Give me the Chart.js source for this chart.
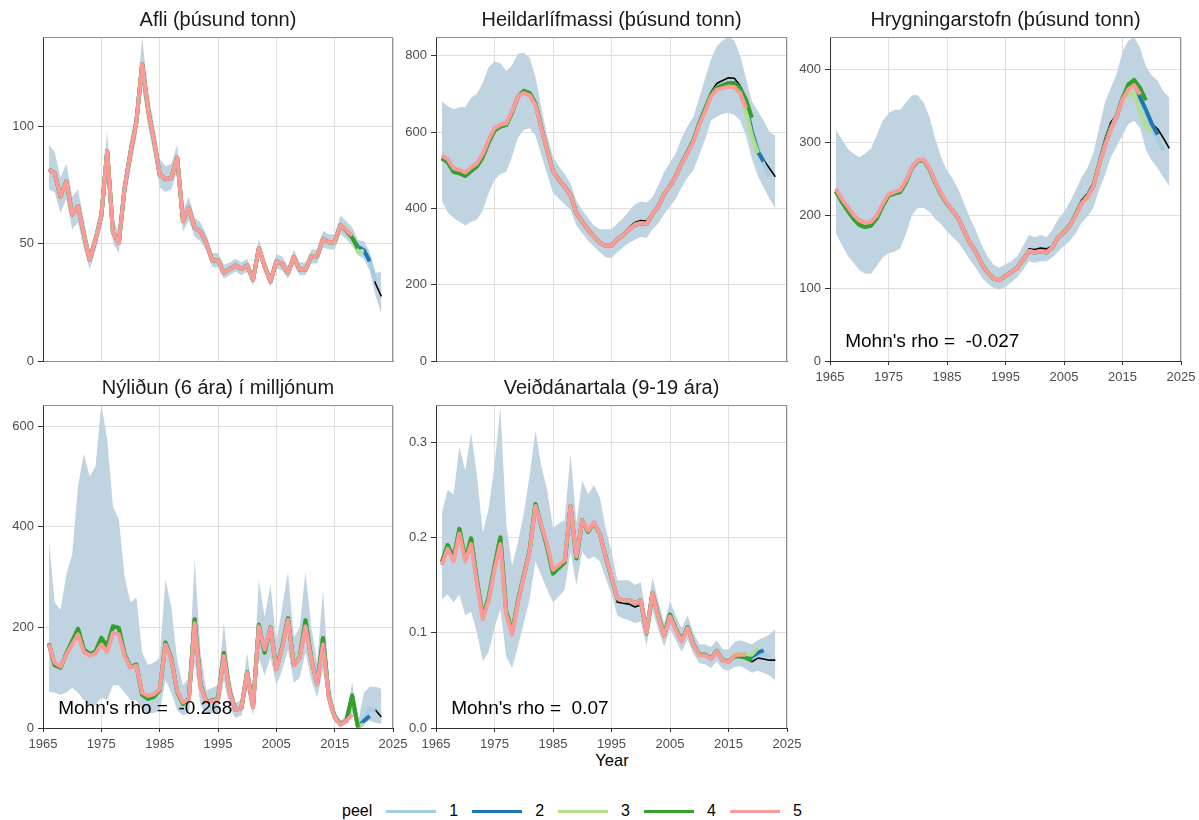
<!DOCTYPE html>
<html>
<head>
<meta charset="utf-8">
<script src="https://cdn.jsdelivr.net/npm/chart.js@4.4.0/dist/chart.umd.min.js"></script>
<style>
  body { margin: 0; background: #fff; width: 1199px; height: 820px; overflow: hidden; position: relative;
         font-family: "Liberation Sans", Arial, Helvetica, sans-serif; }
  canvas { position: absolute; }
  #xlab { position: absolute; left: 512px; width: 200px; top: 751px; text-align: center; font-size: 16.5px; color: #000; }
  #legend { position: absolute; left: 342px; top: 800px; height: 22px; display: flex; align-items: center; font-size: 16px; color: #000; }
  #legend .sw { display: inline-block; width: 50px; height: 3px; margin-left: 14px; margin-right: 13px; }
</style>
</head>
<body>
<div id="xlab">Year</div>
<div id="legend"></div>
<script>
// years 1966-2023; black line + ribbon span all of them, peel 5 stops at 2018
const years = [1966,1967,1968,1969,1970,1971,1972,1973,1974,1975,
  1976,1977,1978,1979,1980,1981,1982,1983,1984,1985,
  1986,1987,1988,1989,1990,1991,1992,1993,1994,1995,
  1996,1997,1998,1999,2000,2001,2002,2003,2004,2005,
  2006,2007,2008,2009,2010,2011,2012,2013,2014,2015,
  2016,2017,2018,2019,2020,2021,2022,2023];
const xTicks = [1965, 1975, 1985, 1995, 2005, 2015, 2025];
const peelNames = ['1', '2', '3', '4', '5'];
const peelColors = ['#a6cee3', '#1f78b4', '#b2df8a', '#33a02c', '#fb9a99'];

// Afli
const afliFull = [81.6, 80, 70, 76.6, 62.4, 66, 54, 43, 51.7, 61.7,
  89.5, 54.6, 50.3, 73.8, 88.7, 101.6, 126.5, 107.3, 94.4, 79.5,
  77.4, 78, 86.6, 59.5, 65.2, 56.7, 55, 50.3, 42.9, 42.9,
  37.5, 39.2, 40.7, 39.2, 40.7, 34.6, 48.1, 40.3, 33.9, 42.4,
  41.3, 37.5, 44.2, 38.9, 38.9, 44.6, 44.6, 52, 50.6, 50.6,
  57.8, 55.5, 52.5, 48.5, 47.5, 42.5, 33, 27.5];
const afliLo = [73, 72, 63, 69, 56, 59, 48, 39, 47, 57,
  82, 50, 46, 68, 82, 95, 117, 100, 88, 74,
  72, 73, 81, 55, 60, 53, 51, 47, 40, 40,
  35, 36.5, 38, 36.5, 38, 32, 45, 37.5, 31.5, 39.5,
  38.5, 35, 41, 36.5, 36.5, 41.5, 41.5, 48.5, 47.5, 47.5,
  54, 52, 49, 45, 43.5, 38.5, 28, 20];
const afliHi = [92, 89, 78, 84, 70, 73, 60, 47, 56, 67,
  98, 60, 55, 80, 95, 108, 138, 115, 101, 86,
  83, 84, 92, 64, 70, 61, 59, 54, 46, 46,
  41, 42, 43.5, 42, 43.5, 37.5, 52, 43.5, 37, 45.5,
  44.5, 40.5, 47.5, 42, 42, 47.5, 47.5, 55.5, 54, 54,
  62, 59.5, 57, 51.5, 51, 46.5, 37.5, 38];
// shared course of peels 1-4 up to 2018
const afliRetro = [81.6, 80, 70, 76.6, 62.4, 66, 54, 43, 51.7, 61.7,
  89.5, 54.6, 50.3, 73.8, 88.7, 101.6, 126.5, 107.3, 94.4, 79.5,
  77.4, 78, 86.6, 59.5, 65.2, 56.7, 55, 50.3, 42.9, 42.9,
  37.5, 39.2, 40.7, 39.2, 40.7, 34.6, 48.1, 40.3, 33.9, 42.4,
  41.3, 37.5, 44.2, 38.9, 38.9, 44.6, 44.6, 52, 50.6, 50.6,
  57.8, 55.5, 52.5];
const afliPeel5 = [81.6, 80, 70, 76.6, 62.4, 66, 54, 43, 51.7, 61.7,
  89.5, 54.6, 50.3, 73.8, 88.7, 101.6, 126.5, 107.3, 94.4, 79.5,
  77.4, 78, 86.6, 59.5, 65.2, 56.7, 55, 50.3, 42.9, 42.9,
  37.5, 39.2, 40.7, 39.2, 40.7, 34.6, 48.1, 40.3, 33.9, 42.4,
  41.3, 37.5, 44.2, 38.9, 38.9, 44.6, 44.6, 52, 50.6, 50.6,
  57.8, 55.7, 53.5];
// last years of peels 1-4 (peel k ends at 2023 - k)
const afliTails = [[43, 34], [47.2, 42.5], [46.5, 47], [52.5, 48]];
const afliYTicks = [0, 50, 100];

// Heildarlífmassi
const bioFull = [531, 521, 496, 492, 485, 498, 510, 535, 573, 604,
  614, 619, 651, 692, 708, 702, 675, 612, 553, 497,
  475, 457, 435, 387, 365, 344, 326, 310, 302, 302,
  320, 333, 350, 363, 368, 367, 388, 407, 440, 462,
  488, 523, 552, 583, 628, 666, 705, 727, 735, 742,
  741, 721, 676, 610, 562, 527, 505, 483];
const bioLo = [420, 390, 375, 365, 355, 365, 370, 395, 440, 475,
  490, 495, 535, 585, 605, 610, 590, 540, 490, 440,
  425, 410, 395, 355, 335, 315, 300, 285, 272, 270,
  285, 298, 310, 318, 325, 322, 345, 360, 385, 405,
  425, 455, 480, 500, 540, 580, 630, 640, 648, 650,
  645, 630, 590, 530, 485, 455, 425, 400];
const bioHi = [680, 668, 660, 665, 665, 690, 700, 730, 770, 785,
  780, 760, 775, 805, 808, 795, 745, 665, 590, 535,
  510, 490, 465, 420, 395, 375, 355, 345, 345, 345,
  360, 375, 393, 410, 418, 415, 430, 460, 495, 520,
  545, 585, 615, 640, 690, 740, 790, 825, 840, 850,
  840, 800, 740, 680, 655, 630, 600, 590];
const bioRetro = [531, 521, 496, 492, 485, 498, 510, 535, 573, 604,
  614, 619, 651, 692, 708, 702, 675, 612, 553, 497,
  475, 457, 435, 387, 365, 344, 326, 310, 302, 302,
  319, 330, 345, 357, 361, 359, 385, 405, 437, 459,
  484, 519, 547, 578, 623, 660, 698, 716, 722, 728,
  728, 715, 684];
const bioPeel5 = [539, 529, 505, 501, 494, 507, 518, 543, 580, 610,
  619, 623, 654, 693, 702, 696, 671, 610, 553, 497,
  475, 457, 435, 387, 365, 344, 326, 310, 302, 302,
  319, 330, 345, 357, 361, 359, 385, 405, 437, 459,
  483, 518, 545, 575, 619, 654, 693, 711, 715, 719,
  718, 702, 663];
const bioTails = [[670, 605, 560, 515, 483], [668, 600, 549, 523], [712, 700, 655, 590, 545], [684, 638]];
const bioYTicks = [0, 200, 400, 600, 800];

// Hrygningarstofn
const ssbFull = [233, 219, 207, 196, 187, 184, 186, 196, 213, 227,
  230, 232, 246, 265, 275, 276, 264, 245, 229, 216,
  206, 195, 177, 161, 149, 132, 121, 113, 111, 117,
  122, 128, 140, 154, 153, 155, 154, 158, 172, 180,
  189, 204, 221, 230, 245, 276, 305, 328, 338, 362,
  376, 383, 361, 338, 326, 319, 306, 292];
const ssbLo = [175, 160, 145, 135, 125, 120, 120, 130, 142, 148,
  150, 155, 175, 200, 210, 210, 205, 195, 188, 178,
  170, 162, 150, 138, 127, 114, 106, 100, 98, 102,
  108, 115, 125, 137, 135, 137, 137, 142, 150, 158,
  165, 175, 190, 198, 210, 235, 255, 280, 295, 310,
  325, 330, 320, 290, 275, 265, 252, 240];
const ssbHi = [318, 305, 292, 285, 280, 285, 292, 310, 330, 340,
  345, 345, 355, 365, 365, 355, 335, 305, 280, 262,
  250, 235, 215, 195, 178, 158, 143, 132, 128, 133,
  137, 144, 158, 173, 170, 173, 170, 180, 195, 205,
  218, 235, 252, 265, 285, 320, 355, 375, 395, 425,
  440, 445, 430, 405, 392, 385, 370, 362];
const ssbRetro = [233, 219, 207, 196, 187, 184, 186, 196, 213, 227,
  230, 232, 246, 265, 275, 276, 264, 245, 229, 216,
  206, 195, 177, 161, 149, 132, 121, 113, 111, 117,
  122, 128, 139, 151, 149, 151, 149, 156, 170, 177,
  186, 201, 217, 226, 240, 270, 297, 320, 336, 361,
  376, 382, 368];
const ssbPeel5 = [237, 223, 212, 201, 193, 190, 191, 200, 216, 229,
  232, 235, 248, 266, 276, 277, 265, 246, 230, 217,
  206, 195, 177, 161, 149, 132, 121, 113, 111, 117,
  122, 128, 139, 151, 149, 151, 149, 156, 170, 177,
  186, 200, 216, 225, 239, 269, 295, 318, 336, 359,
  373, 379, 366];
const ssbTails = [[362, 340, 318, 306, 289], [362, 345, 326, 311], [365, 368, 343, 322, 315], [380, 386, 375, 358]];
const ssbYTicks = [0, 100, 200, 300, 400];

// Nýliðun
const recFull = [168, 125, 120, 148, 172, 197, 156, 147, 152, 179,
  162, 202, 199, 146, 121, 126, 66, 58, 62, 75,
  170, 138, 72, 48, 58, 216, 86, 52, 55, 58,
  149, 72, 36, 39, 111, 42, 205, 148, 200, 117,
  162, 218, 125, 140, 214, 137, 88, 179, 62, 22,
  8, 14, 62, 3, 18, 39, 36, 22];
const recLo = [72, 70, 66, 70, 80, 70, 55, 45, 45, 60,
  55, 85, 85, 70, 55, 55, 35, 30, 30, 35,
  95, 70, 35, 25, 30, 130, 45, 28, 30, 32,
  95, 40, 20, 25, 75, 25, 140, 105, 140, 85,
  115, 155, 90, 100, 150, 95, 60, 115, 40, 12,
  3, 8, 30, 0, 10, 15, 10, 8];
const recHi = [375, 250, 235, 305, 345, 480, 545, 500, 520, 642,
  575, 440, 415, 300, 250, 260, 150, 125, 130, 140,
  295, 240, 135, 85, 100, 335, 150, 75, 80, 85,
  210, 100, 50, 55, 150, 60, 295, 220, 285, 170,
  240, 310, 180, 200, 310, 200, 130, 275, 95, 35,
  15, 25, 90, 10, 70, 82, 82, 78];
const recRetro = [168, 125, 120, 148, 172, 197, 156, 147, 152, 179,
  162, 202, 199, 146, 121, 126, 66, 58, 62, 75,
  170, 138, 72, 48, 58, 216, 86, 52, 55, 58,
  149, 72, 36, 39, 111, 42, 205, 150, 200, 117,
  162, 218, 125, 140, 214, 137, 88, 179, 62, 22,
  8, 14, 62];
const recPeel5 = [166, 130, 122, 146, 166, 186, 151, 144, 148, 166,
  151, 189, 186, 143, 120, 124, 70, 64, 67, 77,
  166, 136, 74, 51, 57, 208, 84, 51, 54, 57,
  143, 70, 36, 39, 110, 41, 202, 156, 199, 116,
  159, 215, 124, 139, 202, 136, 87, 166, 61, 21,
  6, 14, 26];
const recTails = [[38, 35], [1, 14, 24], [60, 3, 8], [65, 1]];
const recYTicks = [0, 200, 400, 600];

// Veiðdánartala
const fFull = [0.174, 0.192, 0.178, 0.209, 0.177, 0.199, 0.155, 0.117, 0.137, 0.170,
  0.200, 0.123, 0.100, 0.133, 0.160, 0.186, 0.235, 0.212, 0.190, 0.162,
  0.168, 0.174, 0.233, 0.178, 0.218, 0.206, 0.215, 0.204, 0.180, 0.158,
  0.132, 0.131, 0.130, 0.127, 0.129, 0.098, 0.141, 0.118, 0.097, 0.119,
  0.104, 0.092, 0.106, 0.088, 0.077, 0.077, 0.073, 0.081, 0.071, 0.070,
  0.075, 0.075, 0.073, 0.0695, 0.0735, 0.0725, 0.0712, 0.0712];
const fLo = [0.135, 0.140, 0.132, 0.140, 0.118, 0.122, 0.100, 0.070, 0.080, 0.105,
  0.125, 0.075, 0.063, 0.085, 0.110, 0.135, 0.175, 0.160, 0.145, 0.132,
  0.138, 0.145, 0.185, 0.150, 0.185, 0.177, 0.180, 0.175, 0.157, 0.140,
  0.118, 0.115, 0.113, 0.110, 0.112, 0.086, 0.123, 0.103, 0.085, 0.104,
  0.092, 0.080, 0.093, 0.078, 0.068, 0.067, 0.063, 0.070, 0.062, 0.060,
  0.064, 0.065, 0.062, 0.058, 0.060, 0.058, 0.055, 0.050];
const fHi = [0.225, 0.250, 0.245, 0.295, 0.270, 0.310, 0.265, 0.205, 0.230, 0.275,
  0.337, 0.215, 0.170, 0.195, 0.225, 0.265, 0.312, 0.275, 0.250, 0.210,
  0.215, 0.218, 0.288, 0.215, 0.260, 0.245, 0.255, 0.242, 0.210, 0.185,
  0.155, 0.155, 0.155, 0.150, 0.153, 0.115, 0.158, 0.133, 0.110, 0.133,
  0.118, 0.105, 0.118, 0.100, 0.088, 0.088, 0.085, 0.092, 0.083, 0.082,
  0.090, 0.092, 0.090, 0.088, 0.092, 0.095, 0.098, 0.104];
const fRetro = [0.174, 0.192, 0.178, 0.209, 0.177, 0.199, 0.155, 0.117, 0.137, 0.170,
  0.200, 0.123, 0.100, 0.133, 0.160, 0.186, 0.235, 0.212, 0.190, 0.162,
  0.168, 0.174, 0.233, 0.178, 0.218, 0.206, 0.215, 0.204, 0.180, 0.158,
  0.136, 0.134, 0.134, 0.131, 0.134, 0.100, 0.142, 0.118, 0.097, 0.119,
  0.104, 0.092, 0.106, 0.088, 0.077, 0.077, 0.073, 0.081, 0.071, 0.070,
  0.076, 0.077, 0.077];
const fPeel5 = [0.171, 0.188, 0.175, 0.204, 0.175, 0.193, 0.152, 0.114, 0.134, 0.166,
  0.193, 0.120, 0.098, 0.131, 0.159, 0.185, 0.233, 0.213, 0.193, 0.166,
  0.171, 0.176, 0.233, 0.180, 0.218, 0.207, 0.216, 0.204, 0.180, 0.159,
  0.136, 0.134, 0.134, 0.131, 0.134, 0.100, 0.142, 0.117, 0.096, 0.117,
  0.103, 0.091, 0.105, 0.0875, 0.0764, 0.0764, 0.0726, 0.0806, 0.0708, 0.0694,
  0.076, 0.077, 0.077];
const fTails = [[0.073, 0.0765, 0.077, 0.0755], [0.075, 0.079, 0.0815], [0.077, 0.078, 0.077, 0.077, 0.084], [0.075, 0.075, 0.0736, 0.0705]];
const fYTicks = [0, 0.1, 0.2, 0.3];

const FONT = '"Liberation Sans", Arial, Helvetica, sans-serif';
const RIBBON = 'rgb(191,211,225)';
const GRID = '#dedede';

const panels = [
  { title: 'Afli (þúsund tonn)', left: 43, top: 37, w: 350, h: 324, showX: false, yMax: 138,
    yTicks: afliYTicks, full: afliFull, lo: afliLo, hi: afliHi, retro: afliRetro, p5: afliPeel5, tails: afliTails, rho: null },
  { title: 'Heildarlífmassi (þúsund tonn)', left: 436, top: 37, w: 351, h: 324, showX: false, yMax: 849,
    yTicks: bioYTicks, full: bioFull, lo: bioLo, hi: bioHi, retro: bioRetro, p5: bioPeel5, tails: bioTails, rho: null },
  { title: 'Hrygningarstofn (þúsund tonn)', left: 830, top: 37, w: 351, h: 324, showX: true, yMax: 445,
    yTicks: ssbYTicks, full: ssbFull, lo: ssbLo, hi: ssbHi, retro: ssbRetro, p5: ssbPeel5, tails: ssbTails, rho: "Mohn's rho =  -0.027" },
  { title: 'Nýliðun (6 ára) í milljónum', left: 43, top: 405, w: 350, h: 323, showX: true, yMax: 642,
    yTicks: recYTicks, full: recFull, lo: recLo, hi: recHi, retro: recRetro, p5: recPeel5, tails: recTails, rho: "Mohn's rho =  -0.268" },
  { title: 'Veiðdánartala (9-19 ára)', left: 436, top: 405, w: 351, h: 323, showX: true, yMax: 0.339, dec: 1,
    yTicks: fYTicks, full: fFull, lo: fLo, hi: fHi, retro: fRetro, p5: fPeel5, tails: fTails, rho: "Mohn's rho =  0.07" }
];

function pts(vals) {
  return vals.map((v, i) => ({ x: years[i], y: v }));
}

function peelPts(p, k) {
  if (k === 5) return pts(p.p5);
  const end = 2023 - k;
  const tail = p.tails[k - 1];
  const start = end - tail.length + 1;
  const out = [];
  for (let i = 0; years[i] <= end; i++) {
    const yr = years[i];
    let v;
    if (yr >= start) v = tail[yr - start];
    else if (i < p.retro.length) v = p.retro[i];
    else v = p.full[i];
    out.push({ x: yr, y: v });
  }
  return out;
}

// top + right edge of the panel box (left/bottom come from the axis borders)
const panelBox = {
  id: 'panelBox',
  afterDraw(chart) {
    const a = chart.chartArea, c = chart.ctx;
    const t = Math.round(a.top) + 0.5, r = Math.round(a.right) - 0.5;
    c.save();
    c.strokeStyle = '#8f8f8f';
    c.lineWidth = 1;
    c.beginPath();
    c.moveTo(a.left, t); c.lineTo(r, t); c.lineTo(r, a.bottom);
    c.stroke();
    c.restore();
  }
};

const mohnText = {
  id: 'mohnText',
  afterDatasetsDraw(chart, args, opts) {
    if (!opts.text) return;
    const c = chart.ctx;
    const x = chart.scales.x.getPixelForValue(1967.6);
    const y = chart.scales.y.getPixelForValue(chart.scales.y.max * 0.06);
    c.save();
    c.font = '19px ' + FONT;
    c.fillStyle = '#000';
    c.textAlign = 'left';
    c.textBaseline = 'middle';
    c.fillText(opts.text, x, y);
    c.restore();
  }
};

function noPad(s) {
  s.paddingTop = 0; s.paddingBottom = 0; s.paddingLeft = 0; s.paddingRight = 0;
}

panels.forEach(p => {
  const padRight = 20;
  const xh = p.showX ? 30 : 10;
  const cv = document.createElement('canvas');
  cv.width = 43 + p.w + padRight;
  cv.height = 37 + p.h + xh;
  cv.style.left = (p.left - 43) + 'px';
  cv.style.top = (p.top - 37) + 'px';
  document.body.appendChild(cv);

  const datasets = [
    { data: pts(p.lo), borderWidth: 0, pointRadius: 0, fill: false, order: 10 },
    { data: pts(p.hi), borderWidth: 0, pointRadius: 0, fill: '-1', backgroundColor: RIBBON, order: 9 },
    { data: pts(p.full), borderColor: '#000', borderWidth: 1.6, pointRadius: 0, fill: false, order: 6 }
  ];
  for (let k = 1; k <= 5; k++) {
    datasets.push({
      label: peelNames[k - 1],
      data: peelPts(p, k),
      borderColor: peelColors[k - 1],
      borderWidth: 4,
      pointRadius: 0,
      fill: false,
      order: 6 - k
    });
  }

  new Chart(cv, {
    type: 'line',
    data: { datasets: datasets },
    plugins: [panelBox, mohnText],
    options: {
      responsive: false,
      animation: false,
      events: [],
      layout: { padding: { left: 0, right: padRight, top: 0, bottom: 0 }, autoPadding: false },
      elements: { line: { tension: 0, borderCapStyle: 'butt', borderJoinStyle: 'round' } },
      plugins: {
        legend: { display: false },
        tooltip: { enabled: false },
        title: {
          display: true, text: p.title, fullSize: false, color: '#1a1a1a',
          font: { family: FONT, size: 20, weight: 'normal', lineHeight: 1.2 },
          padding: { top: 8, bottom: 5 }
        },
        mohnText: { text: p.rho }
      },
      scales: {
        x: {
          type: 'linear', min: 1965, max: 2025,
          afterBuildTicks: s => { s.ticks = xTicks.map(v => ({ value: v })); },
          afterFit: s => { s.height = xh; noPad(s); },
          ticks: { display: p.showX, autoSkip: false, maxRotation: 0, padding: 5, color: '#4d4d4d',
                   font: { family: FONT, size: 13 }, callback: v => String(v) },
          grid: { color: GRID, lineWidth: 1, drawTicks: p.showX, tickLength: 4, tickColor: '#333' },
          border: { display: true, color: p.showX ? '#333' : '#8f8f8f', width: 1 }
        },
        y: {
          type: 'linear', min: 0, max: p.yMax,
          afterBuildTicks: s => { s.ticks = p.yTicks.map(v => ({ value: v })); },
          afterFit: s => { s.width = 43; noPad(s); },
          ticks: { autoSkip: false, padding: 4, color: '#4d4d4d', font: { family: FONT, size: 13 },
                   callback: v => p.dec ? v.toFixed(p.dec) : String(v) },
          grid: { color: GRID, lineWidth: 1, tickLength: 5, tickColor: '#333' },
          border: { display: true, color: '#333', width: 1 }
        }
      }
    }
  });
});

// shared legend
const legend = document.getElementById('legend');
const lt = document.createElement('span');
lt.textContent = 'peel';
legend.appendChild(lt);
peelNames.forEach((n, i) => {
  const sw = document.createElement('span');
  sw.className = 'sw';
  sw.style.background = peelColors[i];
  legend.appendChild(sw);
  const t = document.createElement('span');
  t.textContent = n;
  legend.appendChild(t);
});
</script>
</body>
</html>
